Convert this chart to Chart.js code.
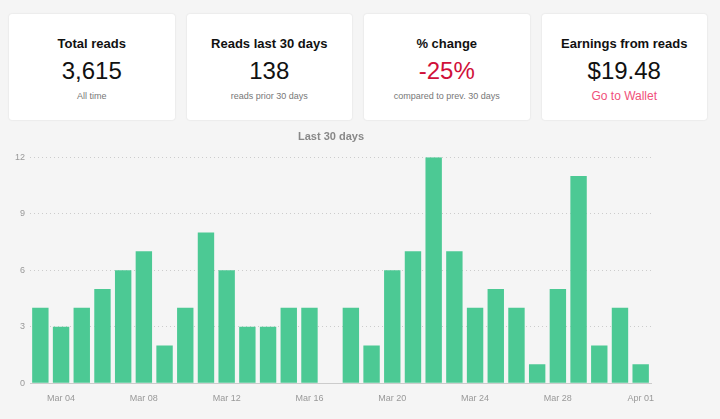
<!DOCTYPE html>
<html><head><meta charset="utf-8">
<script src="https://cdn.jsdelivr.net/npm/chart.js@4"></script>
<style>
body{margin:0;background:#f5f5f5;font-family:"Liberation Sans",Arial,sans-serif;width:720px;height:419px;overflow:hidden}
.cards{position:absolute;left:9px;top:14px;width:698px;display:flex;gap:12px}
.card{flex:1;height:106px;background:#fff;border-radius:3px;box-shadow:0 0 2px rgba(0,0,0,.12);text-align:center;box-sizing:border-box;padding-top:22px}
.t{font-weight:bold;font-size:13px;color:#111}
.v{font-size:24px;color:#111;margin-top:6px;line-height:28px}
.s{font-size:9px;color:#777;margin-top:6px}
.red{color:#d0103a}.link{color:#f0507a;font-size:12px;margin-top:4px}
#wrap{position:absolute;left:0;top:124px;width:656px;height:286px}
</style></head><body>
<div class="cards">
<div class="card"><div class="t">Total reads</div><div class="v">3,615</div><div class="s">All time</div></div>
<div class="card"><div class="t">Reads last 30 days</div><div class="v">138</div><div class="s">reads prior 30 days</div></div>
<div class="card"><div class="t">% change</div><div class="v red">-25%</div><div class="s">compared to prev. 30 days</div></div>
<div class="card"><div class="t">Earnings from reads</div><div class="v">$19.48</div><div class="link">Go to Wallet</div></div>
</div>
<div id="wrap"><canvas id="c"></canvas></div>
<script>
const labels = ["Mar 03","Mar 04","Mar 05","Mar 06","Mar 07","Mar 08","Mar 09","Mar 10","Mar 11","Mar 12","Mar 13","Mar 14","Mar 15","Mar 16","Mar 17","Mar 18","Mar 19","Mar 20","Mar 21","Mar 22","Mar 23","Mar 24","Mar 25","Mar 26","Mar 27","Mar 28","Mar 29","Mar 30","Mar 31","Apr 01"];
const reads = [4,3,4,5,6,7,2,4,8,6,3,3,4,4,0,4,2,6,7,12,7,4,5,4,1,5,11,2,4,1];

new Chart(document.getElementById("c"), {
  type: "bar",
  data: {
    labels: labels,
    datasets: [{ data: reads, backgroundColor: "#4cc994", categoryPercentage: 0.9, barPercentage: 0.88 }]
  },
  options: {
    maintainAspectRatio: false,
    animation: false,
    layout: { padding: { left: 10, right: 4, bottom: 4 } },
    scales: {
      x: {
        grid: { display: false },
        border: { color: "#ccc" },
        ticks: {
          color: "#999", font: { size: 9 }, autoSkip: false, maxRotation: 0, padding: 2,
          callback: function (v, i) { return (i % 4 === 1) ? labels[i] : ""; }
        }
      },
      y: {
        min: 0, max: 12,
        border: { display: false, dash: [1, 3] },
        grid: { color: "#ccc", drawTicks: false },
        ticks: { stepSize: 3, color: "#999", font: { size: 9 }, padding: 5 }
      }
    },
    plugins: {
      legend: { display: false },
      title: { display: true, text: "Last 30 days", color: "#888", font: { size: 11, weight: "bold" }, padding: { top: 6, bottom: 14 } }
    }
  }
});
</script>
</body></html>
